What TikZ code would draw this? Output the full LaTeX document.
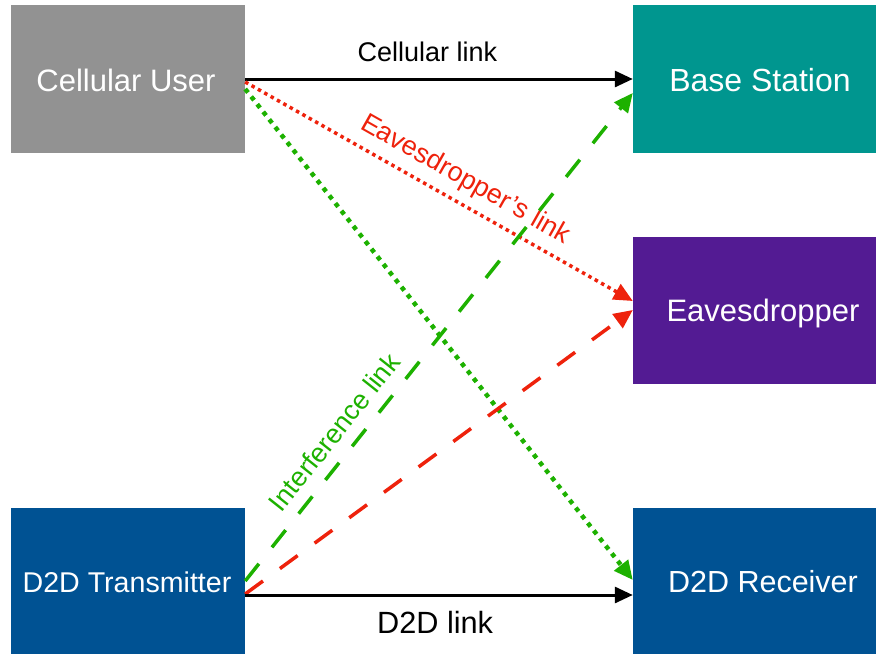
\documentclass[tikz,border=0pt]{standalone}
\usepackage{fontspec}
\setmainfont{Liberation Sans}
\usetikzlibrary{arrows.meta}

\definecolor{boxgray}{RGB}{146,146,146}
\definecolor{boxteal}{RGB}{0,150,143}
\definecolor{boxpurple}{RGB}{83,27,147}
\definecolor{boxblue}{RGB}{0,82,147}
\definecolor{linkred}{RGB}{238,34,12}
\definecolor{linkgreen}{RGB}{29,177,0}

\tikzset{
  unit/.style={draw=none, inner sep=0pt, minimum width=#1},
  unitL/.style={unit=234pt},
  unitR/.style={unit=243pt},
  boxtext/.style={text=white, inner sep=0pt},
  solidlink/.style={line width=3pt, -{Triangle[length=18pt,width=16pt]}},
  dottedred/.style={draw=linkred, line width=3.5pt, dash pattern=on 3.5pt off 3.8pt,
    -{Triangle[length=19pt,width=17pt]}},
  dottedgreen/.style={draw=linkgreen, line width=4.5pt, dash pattern=on 4.5pt off 5.2pt,
    -{Triangle[length=19pt,width=17pt]}},
  dashedred/.style={draw=linkred, line width=3.5pt, dash pattern=on 22pt off 21pt,
    -{Triangle[length=19pt,width=17pt]}},
  dashedgreen/.style={draw=linkgreen, line width=3.5pt, dash pattern=on 22pt off 21pt,
    -{Triangle[length=19pt,width=17pt]}},
  linklabel/.style={inner sep=0pt, font=\fontsize{27}{30}\selectfont},
}

\begin{document}
\begin{tikzpicture}[x=1pt, y=-1pt]
\useasboundingbox (0,0) rectangle (876,654);

% endpoint boxes
\node[unitL, minimum height=148pt, fill=boxgray] (cu) at (128,79) {};
\node[boxtext, font=\fontsize{31}{34}\selectfont] (cut) at (126,80) {Cellular User};

\node[unitR, minimum height=148pt, fill=boxteal] (bs) at (754.5,79) {};
\node[boxtext, font=\fontsize{32}{35}\selectfont] (bst) at (760,80) {Base Station};

\node[unitR, minimum height=147pt, fill=boxpurple] (ev) at (754.5,310.5) {};
\node[boxtext, font=\fontsize{31}{34}\selectfont] (evt) at (763,313) {Eavesdropper};

\node[unitL, minimum height=146pt, fill=boxblue] (tx) at (128,581) {};
\node[boxtext, font=\fontsize{28.6}{31}\selectfont] (txt) at (127,582) {D2D Transmitter};

\node[unitR, minimum height=146pt, fill=boxblue] (rx) at (754.5,581) {};
\node[boxtext, font=\fontsize{30.5}{33}\selectfont] (rxt) at (763,582) {D2D Receiver};

% links
\draw[solidlink] (cu.east) -- node[linklabel, pos=0.47, yshift=27pt] {Cellular link} (bs.west);

\draw[dottedred] ([yshift=-3pt]cu.east) --
  node[linklabel, text=linkred, sloped, pos=0.539, yshift=23pt] {Eavesdropper’s link}
  ([yshift=9.5pt]ev.west);

\draw[dottedgreen] ([yshift=-10pt]cu.east) -- ([yshift=1pt]rx.west);

\draw[dashedgreen] (tx.east) --
  node[linklabel, text=linkgreen, sloped, pos=0.276, yshift=23pt] {Interference link}
  ([yshift=-14pt]bs.west);

\draw[dashedred] ([yshift=-13pt]tx.east) -- ([yshift=0.5pt]ev.west);

\draw[solidlink] ([yshift=-14pt]tx.east) --
  node[inner sep=0pt, font=\fontsize{30.7}{33}\selectfont, pos=0.49, yshift=-27pt] {D2D link}
  ([yshift=-14pt]rx.west);
\end{tikzpicture}
\end{document}
